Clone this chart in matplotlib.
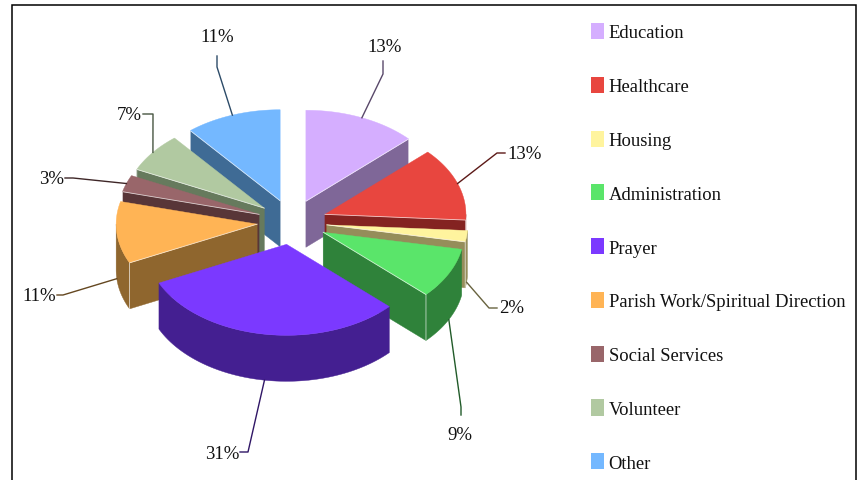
import numpy as np
import matplotlib
matplotlib.use("Agg")
import matplotlib.pyplot as plt
from matplotlib.colors import to_rgb
from matplotlib.patches import Patch, Polygon

categories = ['Education', 'Healthcare', 'Housing', 'Administration', 'Prayer',
              'Parish Work/Spiritual Direction', 'Social Services', 'Volunteer', 'Other']
values = [13, 13, 2, 9, 31, 11, 3, 7, 11]
top_colors = ['#D5AEFF', '#E8463F', '#FFF49E', '#5AE56A', '#7B39FF',
              '#FFB455', '#99666A', '#B1C9A1', '#74B8FF']
side_colors = ['#7F6798', '#842321', '#958D5A', '#2F823A', '#441F91',
               '#8F662E', '#583638', '#667A5D', '#3F6B95']

# pie geometry, in pixels of the picture
CX, CY = 292, 223
RX, RY = 141, 91
EXPLODE = 35
DEPTH = 46

# leader elbows and label anchors
leaders = [[(383, 75), (383, 62)], [(497, 154), (505, 154)], [(489, 309), (497, 309)],
           [(461, 408), (461, 416)], [(248, 453), (240, 453)], [(63, 296), (57, 296)],
           [(73, 179), (65, 179)], [(153, 115), (143, 115)], [(217, 68), (217, 57)]]
label_pos = [(385, 47, 'center'), (507, 155, 'left'), (499, 309, 'left'),
             (460, 436, 'center'), (239, 455, 'right'), (56, 297, 'right'),
             (64, 180, 'right'), (142, 116, 'right'), (217, 38, 'center')]

plt.rcParams['font.family'] = ['Liberation Serif', 'DejaVu Serif']

fig = plt.figure(figsize=(8.58, 4.81), dpi=100)
ax = fig.add_axes([0, 0, 1, 1])
ax.set_xlim(0, 858)
ax.set_ylim(481, 0)
ax.set_axis_off()

# border, open at the bottom
ax.plot([12, 12, 856, 856], [481, 6, 6, 481], color='black', lw=1.1, solid_joinstyle='miter')


def arc(x0, y0, start, end, n=60):
    a = np.linspace(start, end, n)
    return x0 + RX * np.sin(a), y0 - RY * np.cos(a)


edges = np.radians(np.cumsum([0] + values) * 3.6)
slices = []
for i in range(len(values)):
    start, end = edges[i], edges[i + 1]
    mid = (start + end) / 2
    x0 = CX + EXPLODE * np.sin(mid)
    y0 = CY - EXPLODE * RY / RX * np.cos(mid)
    slices.append((i, start, end, mid, x0, y0))

# back slices first
for i, start, end, mid, x0, y0 in sorted(slices, key=lambda s: s[5]):
    side = side_colors[i]
    seams = []
    # cut faces, only when they look at the viewer
    for a, show in ((start, np.sin(start) < -1e-6), (end, np.sin(end) > 1e-6)):
        if show:
            ex, ey = arc(x0, y0, a, a, 1)
            face = [(x0, y0), (ex[0], ey[0]), (ex[0], ey[0] + DEPTH), (x0, y0 + DEPTH)]
            ax.add_patch(Polygon(face, closed=True, fc=side, ec=side, lw=0.3, zorder=2))
            seams.append(([x0, ex[0], ex[0]], [y0, ey[0], ey[0] + DEPTH]))
    # outer wall, front half of the rim
    w0, w1 = max(start, np.pi / 2), min(end, 3 * np.pi / 2)
    if w1 > w0:
        wx, wy = arc(x0, y0, w0, w1)
        wall = list(zip(wx, wy)) + list(zip(wx[::-1], wy[::-1] + DEPTH))
        ax.add_patch(Polygon(wall, closed=True, fc=side, ec=side, lw=0.3, zorder=2))
    tx, ty = arc(x0, y0, start, end)
    top = [(x0, y0)] + list(zip(tx, ty))
    ax.add_patch(Polygon(top, closed=True, fc=top_colors[i], ec=top_colors[i], lw=0.3, zorder=2))
    # thin light seam along the cut edges
    for sx, sy in seams:
        ax.plot(sx, sy, color='white', lw=0.6, alpha=0.7, zorder=2)

# leader lines and percent labels
for i, start, end, mid, x0, y0 in slices:
    ax_, ay_ = arc(x0, y0, mid, mid, 1)
    sy = ay_[0] + (DEPTH if np.cos(mid) < 0 else 0)
    xs = [ax_[0]] + [p[0] for p in leaders[i]]
    ys = [sy] + [p[1] for p in leaders[i]]
    line_color = tuple(c * 0.7 for c in to_rgb(side_colors[i]))
    ax.plot(xs, ys, color=line_color, lw=1, zorder=3)
    lx, ly, ha = label_pos[i]
    ax.text(lx, ly, f'{values[i]}%', ha=ha, va='center', fontsize=13.5, color='#111111', zorder=4)

handles = [Patch(fc=c, ec='none') for c in top_colors]
leg = ax.legend(handles, categories, loc='upper left', bbox_to_anchor=(591, 24),
                bbox_transform=ax.transData, frameon=False, fontsize=13.4,
                handlelength=0.7, handleheight=0.95, handletextpad=0.25,
                labelspacing=1.9, borderpad=0, borderaxespad=0)
for t in leg.get_texts():
    t.set_color('#111111')

fig.savefig('out.png', dpi=100)
